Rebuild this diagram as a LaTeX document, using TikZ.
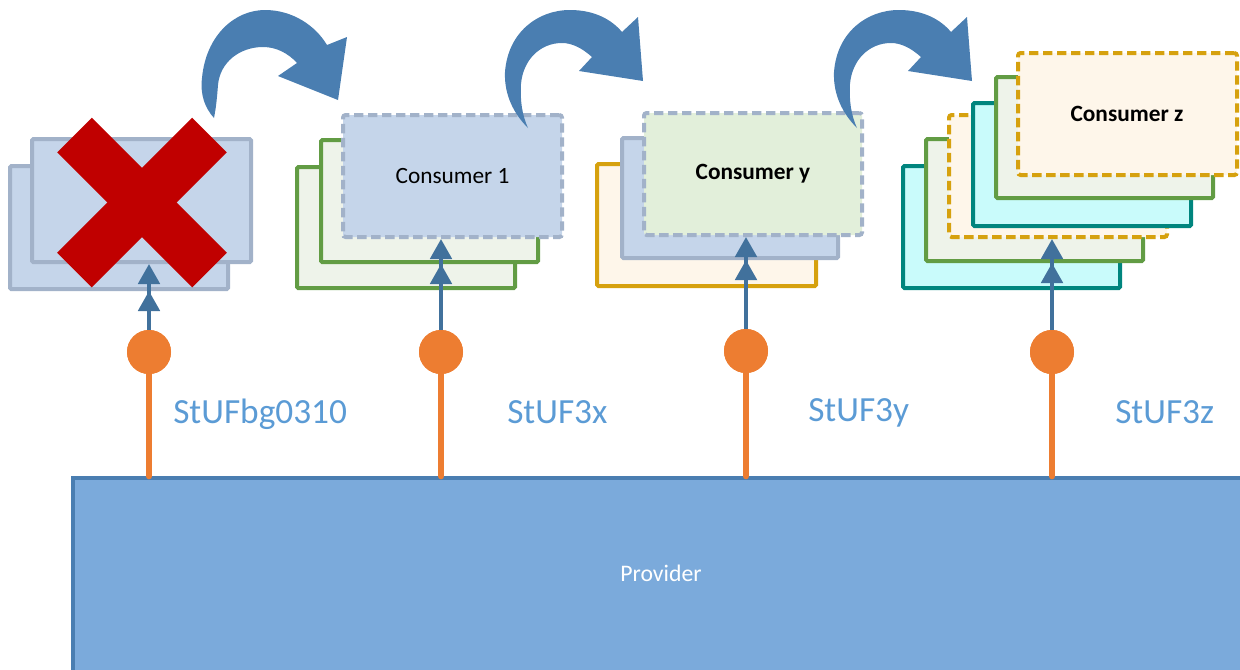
\documentclass[tikz,border=0pt]{standalone}
\usepackage{fontspec}
\setmainfont{Carlito}
\usetikzlibrary{arrows.meta,fit}
\definecolor{cblue}{HTML}{C5D5EA}
\definecolor{cbluedraw}{HTML}{A2B2C9}
\definecolor{cgreen}{HTML}{629C44}
\definecolor{cgreenfill}{HTML}{EEF3EA}
\definecolor{cgold}{HTML}{D6A10E}
\definecolor{cgoldfill}{HTML}{FEF6EA}
\definecolor{cteal}{HTML}{00857E}
\definecolor{ctealfill}{HTML}{C9FBFB}
\definecolor{clgreen}{HTML}{E2EFDA}
\definecolor{cred}{HTML}{C00000}
\definecolor{corange}{HTML}{ED7D31}
\definecolor{carrow}{HTML}{41719C}
\definecolor{ccurve}{HTML}{4A7EB1}
\definecolor{cprov}{HTML}{7BAADB}
\definecolor{clabel}{HTML}{5B9BD5}
\tikzset{
  card/.style={inner sep=0pt, line width=3pt, rounded corners=1pt},
  dcard/.style={card, dash pattern=on 7pt off 3.5pt, rounded corners=2pt},
  bluecard/.style={card, fill=cblue, draw=cbluedraw},
  greencard/.style={card, fill=cgreenfill, draw=cgreen},
  goldcard/.style={card, fill=cgoldfill, draw=cgold},
  tealcard/.style={card, fill=ctealfill, draw=cteal},
  dot/.style={circle, fill=corange, inner sep=0pt, minimum size=33pt},
  stick/.style={draw=corange, line width=4.5pt, line cap=round},
  uparrow/.style={draw=carrow, line width=3pt, -{Triangle[length=15pt,width=16pt]}},
  curve/.style={fill=ccurve},
  lbl/.style={text=clabel, font=\fontsize{26.5pt}{30pt}\selectfont, anchor=base west, inner sep=0pt},
  ctext/.style={font=\fontsize{17.5pt}{20pt}\selectfont, text=black}
}
\begin{document}
\begin{tikzpicture}[x=0.75pt,y=-0.75pt]
\useasboundingbox (0,0) rectangle (1240,669);

% Provider
\node[fit={(73,478)(1260,690)}, inner sep=0pt, fill=cprov, draw=ccurve, line width=2.5pt] (prov) {};
\node[font=\fontsize{17.8pt}{20pt}\selectfont, text=white] (provtxt) at (661,573) {Provider};

% Stack 1
\node[bluecard, fit={(10,166)(228,289)}] (s1a) {};
\node[bluecard, fit={(32,139)(251,262)}] (s1b) {};
% red X
\draw[cred, line width=36.75pt] (74.5,135) -- (209.5,270);
\draw[cred, line width=36.75pt] (209.5,135) -- (74.5,270);

% Stack 2
\node[greencard, fit={(297,167)(515,288)}] (s2a) {};
\node[greencard, fit={(321,140)(538,262)}] (s2b) {};
\node[dcard, fill=cblue, draw=cbluedraw, fit={(343,115)(562,237)}] (s2c) {};
\node[ctext] at (s2c.center) {Consumer 1};

% Stack 3
\node[goldcard, fit={(597,164)(816,286)}] (s3a) {};
\node[bluecard, fit={(622,138)(838,258)}] (s3b) {};
\node[dcard, fill=clgreen, draw=cbluedraw, fit={(644,113)(862,235)}] (s3c) {};
\node[ctext, font=\fontsize{17.5pt}{20pt}\selectfont\bfseries] at (s3c.center) {Consumer y};

% Stack 4
\node[tealcard, fit={(903,166)(1120,288)}] (s4a) {};
\node[greencard, fit={(926,139)(1143,261)}] (s4b) {};
\node[dcard, fill=cgoldfill, draw=cgold, fit={(949,115)(1167,237)}] (s4c) {};
\node[tealcard, fit={(973,103)(1191,226)}] (s4d) {};
\node[greencard, fit={(996,77)(1213,198)}] (s4e) {};
\node[dcard, fill=cgoldfill, draw=cgold, fit={(1018,53)(1237,175)}] (s4f) {};
\node[ctext, font=\fontsize{17.5pt}{20pt}\selectfont\bfseries] at (1127,114) {Consumer z};

% Lollipops
\node[dot] (c1) at (149,352) {};
\node[dot] (c2) at (441,352) {};
\node[dot] (c3) at (746,351) {};
\node[dot] (c4) at (1052,352) {};
\foreach \c in {c1,c2,c3,c4} {
  \draw[stick] (\c.center) -- (\c |- prov.north);
  \node[dot] at (\c) {};
}
% up arrows
\draw[uparrow] (c1.north) -- (c1 |- s1a.south);
\draw[uparrow] (c1.north) -- (c1 |- s1b.south);
\draw[uparrow] (c2.north) -- (c2 |- s2b.south);
\draw[uparrow] (c2.north) -- (c2 |- s2c.south);
\draw[uparrow] (c3.north) -- (c3 |- s3b.south);
\draw[uparrow] (c3.north) -- (c3 |- s3c.south);
\draw[uparrow] (c4.north) -- (c4 |- s4b.south);
\draw[uparrow] (c4.north) -- (c4 |- s4c.south);

% Labels
\node[lbl] (l1) at (173,423) {StUFbg0310};
\node[lbl] (l2) at (507,423) {StUF3x};
\node[lbl] (l3) at (808,421) {StUF3y};
\node[lbl] (l4) at (1115,423) {StUF3z};

% Curved arrows
\fill[curve] (214,118) .. controls (205,108) and (200,95) .. (202,78)
  .. controls (206,35) and (235,10) .. (265,10)
  .. controls (292,10) and (315,25) .. (327,45) -- (347,37) -- (338,100) -- (278,76) -- (297,63)
  .. controls (288,53) and (276,47) .. (263,47)
  .. controls (240,47) and (220,62) .. (218,85)
  .. controls (217,98) and (216,108) .. (214,118) -- cycle;
\foreach \dx in {0,329} {
\fill[curve, shift={(\dx*0.75pt,0)}] (528,128) .. controls (514,114) and (504,95) .. (505,72)
  .. controls (508,32) and (538,10) .. (570,10)
  .. controls (595,10) and (612,20) .. (622,32) -- (638,17) -- (643,81) -- (579,71) -- (592,57)
  .. controls (582,48) and (572,43) .. (562,43)
  .. controls (540,43) and (523,60) .. (521,84)
  .. controls (520,100) and (522,115) .. (528,128) -- cycle;
}
\end{tikzpicture}
\end{document}
